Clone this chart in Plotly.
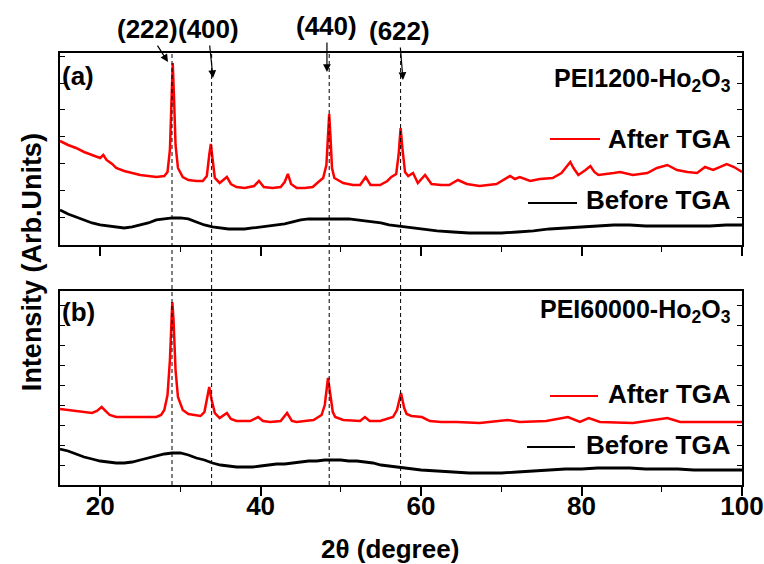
import plotly.graph_objects as go

# ---------------- data ----------------
# Panel (a) PEI1200-Ho2O3
a_after_x = [15, 16, 17, 18, 19, 20, 20.4, 20.8, 21.5, 22, 23, 24, 25, 26, 27, 28, 28.4, 28.7, 28.9, 29.05, 29.2, 29.4, 29.7,
             30.3, 31, 32, 32.8, 33.3, 33.6, 33.8, 34.0, 34.3, 34.9, 35.8, 36.3, 37, 38, 39.2, 39.8, 40.4, 41.5, 42.5,
             43, 43.4, 43.8, 44.5, 45.5, 46.5, 47.2, 47.8, 48.2, 48.4, 48.55, 48.7, 48.9, 49.2, 50.3, 51.5, 52.4, 53.1,
             53.7, 54.9, 55.8, 56.3, 56.9, 57.2, 57.45, 57.7, 58.0, 58.4, 59.0, 59.6, 60.5, 61.3, 62.5, 63.5, 64.6,
             65.7, 67.3, 69.4, 70.3, 71.1, 71.7, 72.3, 73.6, 74.8, 76.4, 77.5, 78.2, 78.6, 79.0, 79.6, 80.5, 81.1,
             81.6, 82.1, 84, 84.8, 86.4, 88.2, 89.4, 90.7, 91.9, 93.2, 94.4, 95.4, 96.4, 97.5, 98.1, 99, 100]
a_after_y = [104, 100, 97, 93, 90, 87, 90, 85, 81, 77, 74, 72, 70, 69, 68, 69, 73, 95, 145, 182, 150, 100, 77,
             68, 65, 64, 64, 69, 90, 101, 87, 67, 62, 68, 61, 58, 57, 59, 64, 58, 57, 58,
             63, 71, 61, 57, 57, 58, 63, 67, 80, 110, 131, 110, 77, 67, 62, 60, 60, 68,
             60, 60, 64, 68, 71, 90, 117, 95, 73, 69, 72, 62, 70, 61, 60, 60, 65,
             61, 59, 61, 65, 69, 66, 68, 64, 66, 67, 72, 79, 83, 77, 70, 75, 79,
             73, 70, 72, 73, 70, 72, 77, 80, 75, 73, 72, 78, 75, 79, 81, 78, 73]

a_before_x = [15, 16, 17, 18, 19, 20, 21, 22, 23, 24, 25, 26, 27, 28, 29, 30, 31, 32, 33, 34, 35, 36, 37, 38, 39, 40,
              41, 42, 43, 44, 45, 46, 47, 48, 49, 50, 51, 52, 53, 54, 55, 56, 57, 58, 60, 62, 64, 66, 68, 70, 72,
              74, 76, 78, 80, 82, 84, 86, 88, 90, 92, 94, 96, 98, 100]
a_before_y = [35, 31, 28, 25, 22, 20, 19, 18, 17, 18, 20, 22, 25, 26, 27, 27, 26, 23, 20, 18, 17, 16, 16, 16, 17, 18,
              19, 20, 21, 23, 25, 26, 26, 26, 26, 26, 26, 25, 24, 23, 22, 20, 19, 18, 16, 14, 13, 12, 12, 12, 13,
              14, 16, 17, 18, 19, 20, 20, 19, 19, 19, 19, 19, 20, 20]

# Panel (b) PEI60000-Ho2O3
b_after_x = [15, 16, 17, 18, 19, 19.6, 20.2, 20.7, 21.2, 22, 23, 24, 25, 26, 27, 27.6, 28.0, 28.4, 28.7, 28.9, 29.0,
             29.15, 29.4, 29.7, 30.3, 31, 31.6, 32.5, 33.0, 33.3, 33.6, 33.9, 34.3, 34.9, 35.8, 36.3, 37, 38.7,
             39.7, 40.3, 41.2, 42.5, 43.3, 43.9, 44.5, 45.5, 46.6, 47.6, 48.0, 48.4, 48.7, 49.0, 49.3, 50.3, 52.4,
             53.0, 53.6, 54.9, 56.5, 57.0, 57.5, 57.9, 58.2, 58.8, 60.1, 61.1, 62.5, 64.4, 67.3, 70.8, 72.3, 75.6,
             78.3, 79.8, 80.9, 82.3, 86.4, 90.7, 92.3, 96.4, 100]
b_after_y = [76, 75, 74, 73, 72, 74, 78, 74, 70, 68, 68, 68, 68, 68, 68, 70, 75, 90, 125, 165, 183,
             165, 115, 88, 75, 71, 70, 69, 73, 85, 98, 85, 72, 67, 72, 66, 64, 64,
             68, 64, 63, 64, 72, 64, 63, 64, 65, 70, 80, 107, 90, 73, 68, 65, 64,
             68, 64, 64, 68, 75, 92, 77, 71, 69, 68, 64, 63, 63, 62, 65, 63, 64,
             68, 63, 67, 63, 62, 67, 63, 63, 63]

b_before_x = a_before_x
b_before_y = [36, 34, 31, 28, 26, 24, 23, 22, 22, 23, 25, 27, 29, 31, 32, 32, 30, 27, 25, 22, 20, 19, 18, 18, 18, 19,
              20, 21, 21, 22, 23, 24, 24, 25, 25, 25, 24, 24, 23, 22, 20, 19, 18, 17, 15, 14, 13, 12, 12, 12, 13,
              14, 15, 16, 16, 17, 17, 17, 16, 16, 16, 15, 15, 15, 15]

# reflections
peak_labels = ["(222)", "(400)", "(440)", "(622)"]
peak_pos = [28.96, 33.9, 48.55, 57.45]
x_ticks = [20, 40, 60, 80, 100]

# ---------------- layout positions ----------------
arrow_head_x = [28.46, 34.07, 48.27, 57.75]
arrow_head_y = [0.979, 0.942, 0.956, 0.9375]
arrow_ax = [-21, -5, 0, -4]
arrow_ay = [-33, -49, -46, -49]

FONT = "Liberation Sans, Arial, sans-serif"
RED = "#ff0000"
BLK = "#000000"

fig = go.Figure()
fig.add_trace(go.Scatter(x=a_after_x, y=a_after_y, mode="lines", line=dict(color=RED, width=2.5),
                         xaxis="x", yaxis="y", showlegend=False))
fig.add_trace(go.Scatter(x=a_before_x, y=a_before_y, mode="lines", line=dict(color=BLK, width=2.8),
                         xaxis="x", yaxis="y", showlegend=False))
fig.add_trace(go.Scatter(x=b_after_x, y=b_after_y, mode="lines", line=dict(color=RED, width=2.5),
                         xaxis="x2", yaxis="y2", showlegend=False))
fig.add_trace(go.Scatter(x=b_before_x, y=b_before_y, mode="lines", line=dict(color=BLK, width=2.8),
                         xaxis="x2", yaxis="y2", showlegend=False))

tickfont = dict(family=FONT, size=26, color=BLK, weight="bold")
xcommon = dict(range=[15, 100], showgrid=False, zeroline=False, showline=True, linecolor=BLK, linewidth=2,
               mirror=True, ticks="outside", ticklen=9, tickwidth=1.5, tickcolor=BLK, tickvals=x_ticks,
               minor=dict(dtick=10, tick0=0, ticks="outside", ticklen=5, tickwidth=1.2, tickcolor=BLK),
               tickfont=tickfont, automargin=False)
ycommon = dict(showgrid=False, zeroline=False, showline=True, linecolor=BLK, linewidth=2, mirror="ticks",
               ticks="inside", ticklen=5, tickwidth=1, tickcolor=BLK, showticklabels=False, tick0=0,
               automargin=False)
topcommon = dict(range=[15, 100], showgrid=False, zeroline=False, showline=False, side="top",
                 ticks="inside", ticklen=4, tickwidth=1, tickcolor=BLK, dtick=10, tick0=0, showticklabels=False,
                 automargin=False)

dom_a = [0.5556, 1.0]
dom_b = [0.0, 0.449]

fig.update_layout(
    width=764, height=564,
    margin=dict(l=60, r=22, t=53, b=79, autoexpand=False),
    paper_bgcolor="white", plot_bgcolor="white",
    font=dict(family=FONT, color=BLK),
    xaxis=dict(**xcommon, anchor="y", showticklabels=False),
    xaxis2=dict(**xcommon, anchor="y2", matches="x", ticklabelstandoff=-12),
    xaxis3=dict(**topcommon, overlaying="x", anchor="y"),
    xaxis4=dict(**topcommon, overlaying="x2", anchor="y2"),
    yaxis=dict(**ycommon, domain=dom_a, range=[0, 192], dtick=27, anchor="x"),
    yaxis2=dict(**ycommon, domain=dom_b, range=[0, 194], dtick=20, anchor="x2"),
    showlegend=False,
)

# dashed reflection lines spanning both panels
for p in peak_pos:
    fig.add_shape(type="line", xref="x", yref="paper", x0=p, x1=p, y0=0, y1=1,
                  line=dict(color=BLK, width=1, dash="4px,3px"), layer="above")

bold = lambda s: "<b>" + s + "</b>"
annfont = dict(family=FONT, size=26, color=BLK)

for lab, hx, hy, ax, ay in zip(peak_labels, arrow_head_x, arrow_head_y, arrow_ax, arrow_ay):
    fig.add_annotation(x=hx, y=hy, xref="x", yref="paper", text=bold(lab), showarrow=True,
                       ax=ax, ay=ay, arrowhead=2, arrowsize=1.3, arrowwidth=1.2, arrowcolor=BLK,
                       font=annfont, standoff=0, startstandoff=0)

# panel tags
fig.add_annotation(x=0.0264, y=0.9468, xref="paper", yref="paper", text=bold("(a)"), showarrow=False,
                   font=annfont, xanchor="center", yanchor="middle")
fig.add_annotation(x=0.0264, y=0.40, xref="paper", yref="paper", text=bold("(b)"), showarrow=False,
                   font=annfont, xanchor="center", yanchor="middle")

# sample names
fig.add_annotation(x=0.987, y=0.979, xref="paper", yref="paper",
                   text=bold("PEI1200-Ho<sub>2</sub>O<sub>3</sub>"), showarrow=False,
                   font=dict(family=FONT, size=25, color=BLK), xanchor="right", yanchor="top")
fig.add_annotation(x=0.987, y=0.444, xref="paper", yref="paper",
                   text=bold("PEI60000-Ho<sub>2</sub>O<sub>3</sub>"), showarrow=False,
                   font=dict(family=FONT, size=25, color=BLK), xanchor="right", yanchor="top")

# legend entries (text + line sample)
leg = [
    ("After TGA", RED, 0.8009, 0.8009, 0.7185, 0.7918),
    ("Before TGA", BLK, 0.6597, 0.6528, 0.6862, 0.7581),
    ("After TGA", RED, 0.2106, 0.206, 0.7185, 0.7889),
    ("Before TGA", BLK, 0.0926, 0.088, 0.6848, 0.7551),
]
for txt, col, ty, ly, lx0, lx1 in leg:
    fig.add_annotation(x=0.987, y=ty, xref="paper", yref="paper", text=bold(txt), showarrow=False,
                       font=annfont, xanchor="right", yanchor="middle")
    fig.add_shape(type="line", xref="paper", yref="paper", x0=lx0, x1=lx1, y0=ly, y1=ly,
                  line=dict(color=col, width=2))

# axis titles
fig.add_annotation(x=-0.041, y=0.516, xref="paper", yref="paper", text=bold("Intensity (Arb.Units)"),
                   textangle=-90, showarrow=False, font=dict(family=FONT, size=27, color=BLK),
                   xanchor="center", yanchor="middle")
fig.add_annotation(x=0.484, y=-0.148, xref="paper", yref="paper", text=bold("2θ (degree)"),
                   showarrow=False, font=annfont, xanchor="center", yanchor="middle")

# remove the default 8px page margin so the 764x564 figure fills the window exactly
fig.write_html("out.html", config={"displayModeBar": False},
               post_script="document.body.style.margin='0px';")
